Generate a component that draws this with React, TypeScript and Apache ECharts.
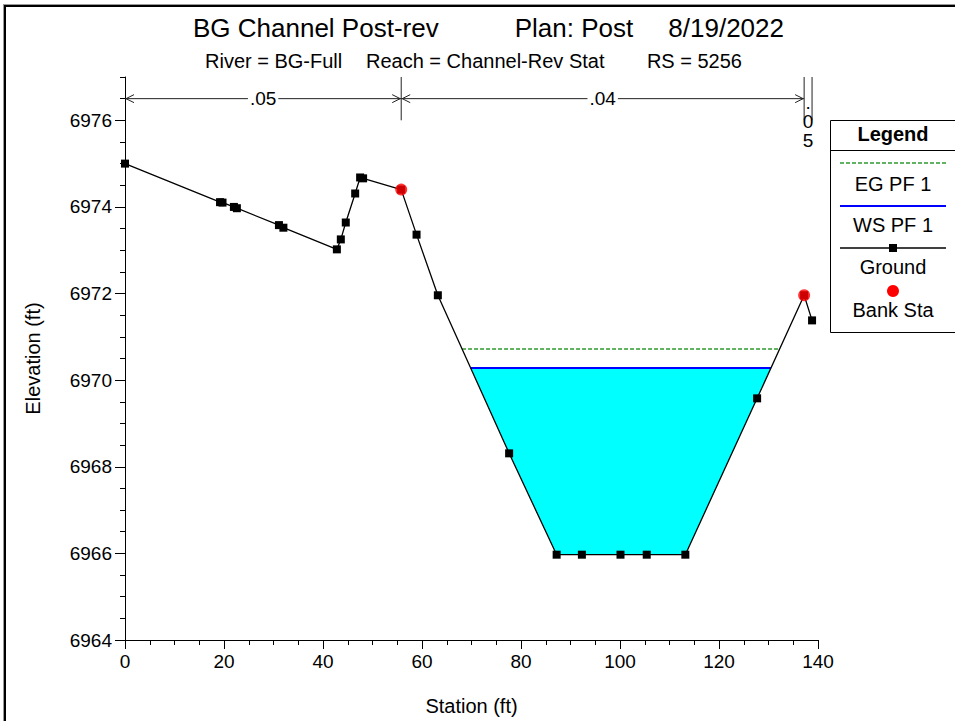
import React, { useEffect, useRef } from "react";
import * as echarts from "echarts";

// ---- Data ----
const stations = [0, 19.2, 19.7, 22.0, 22.6, 31.1, 32.0, 42.8, 43.6, 44.6, 46.5, 47.5, 48.1, 55.8, 58.9, 63.2, 77.6, 87.2, 92.3, 100.1, 105.4, 113.2, 127.7, 137.2, 138.8];
const elevations = [6975.0, 6974.11, 6974.1, 6974.0, 6973.97, 6973.58, 6973.52, 6973.02, 6973.25, 6973.64, 6974.31, 6974.68, 6974.66, 6974.4, 6973.36, 6971.96, 6968.31, 6965.97, 6965.97, 6965.97, 6965.97, 6965.97, 6969.58, 6971.96, 6971.38];
const bankStations = [55.8, 137.2];
const bankElevations = [6974.4, 6971.96];
const wsElevation = 6970.28;
const egElevation = 6970.72;
const nValueLabels = [".05", ".04", ".05"];
const nValueBreaks = [0, 55.8, 137.2, 138.8];
const yLabelValues = [6964, 6966, 6968, 6970, 6972, 6974, 6976];

const X_MIN = 0, X_MAX = 140, X_INT = 20;
const Y_MIN = 6964, Y_MAX = 6977, Y_INT = 2;
const N_LEVEL = 6976.5;

const FONT = "Liberation Sans, Arial, Helvetica, sans-serif";

function crossing(a: number, b: number, level: number): number {
  const t = (level - elevations[a]) / (elevations[b] - elevations[a]);
  return stations[a] + t * (stations[b] - stations[a]);
}

function waterExtent(level: number) {
  let iMin = 0;
  elevations.forEach((e, i) => { if (e < elevations[iMin]) iMin = i; });
  let l = iMin;
  while (l > 0 && elevations[l - 1] < level) l--;
  let r = iMin;
  while (r < elevations.length - 1 && elevations[r + 1] < level) r++;
  return { l, r, xl: crossing(l - 1, l, level), xr: crossing(r, r + 1, level) };
}

const ws = waterExtent(wsElevation);
const eg = waterExtent(egElevation);
const waterPts: number[][] = [[ws.xl, wsElevation]];
for (let i = ws.l; i <= ws.r; i++) waterPts.push([stations[i], elevations[i]]);
waterPts.push([ws.xr, wsElevation]);

const nData = nValueLabels.map((_, i) => [nValueBreaks[i], nValueBreaks[i + 1], i]);

export default function App() {
  const ref = useRef<HTMLDivElement>(null);
  useEffect(() => {
    if (!ref.current) return;
    const chart = echarts.init(ref.current, undefined, { renderer: "svg" });
    const axisText = { color: "#000", fontSize: 19, fontFamily: FONT };
    const legendX = 893;
    const option: any = {
      animation: false,
      backgroundColor: "#fff",
      grid: { left: 125, right: 137, top: 77, bottom: 81 },
      xAxis: {
        type: "value", min: X_MIN, max: X_MAX, interval: X_INT,
        axisLine: { show: true, lineStyle: { color: "#000", width: 1 } },
        axisTick: { show: true, length: 9, lineStyle: { color: "#000" } },
        minorTick: { show: true, splitNumber: 4, length: 5, lineStyle: { color: "#000" } },
        splitLine: { show: false },
        axisLabel: { ...axisText, margin: 12, formatter: (v: number) => String(v) },
        name: "Station (ft)", nameLocation: "middle", nameGap: 56,
        nameTextStyle: { color: "#000", fontSize: 20, fontFamily: FONT },
      },
      yAxis: [
        {
          type: "value", min: Y_MIN, max: Y_MAX, interval: Y_INT, position: "left",
          axisLine: { show: true, lineStyle: { color: "#000", width: 1 } },
          axisTick: { show: true, length: 10, customValues: yLabelValues, lineStyle: { color: "#000" } },
          splitLine: { show: false },
          axisLabel: { ...axisText, margin: 13, customValues: yLabelValues, formatter: (v: number) => String(v) },
          name: "Elevation (ft)", nameLocation: "middle", nameGap: 82, nameRotate: 90,
          nameTextStyle: { color: "#000", fontSize: 20, fontFamily: FONT },
        },
        {
          type: "value", min: Y_MIN, max: Y_MAX, interval: 0.5, position: "left",
          axisLine: { show: false },
          axisTick: { show: true, length: 5, lineStyle: { color: "#000" } },
          axisLabel: { show: false },
          splitLine: { show: false },
        },
      ],
      series: [
        {
          type: "custom", name: "Water", silent: true, z: 1,
          data: waterPts,
          renderItem: (params: any, api: any) => {
            if (params.dataIndex !== 0) return null;
            return {
              type: "polygon",
              shape: { points: waterPts.map((p) => api.coord(p)) },
              style: { fill: "#00ffff", stroke: "none" },
            };
          },
        },
        {
          type: "line", name: "EG PF 1", z: 3, symbol: "none",
          data: [[eg.xl, egElevation], [eg.xr, egElevation]],
          lineStyle: { color: "#2e9a2e", width: 1.5, type: [4, 2] },
        },
        {
          type: "line", name: "WS PF 1", z: 3, symbol: "none",
          data: [[ws.xl, wsElevation], [ws.xr, wsElevation]],
          lineStyle: { color: "#0000ff", width: 2 },
        },
        {
          type: "line", name: "Ground", z: 4, symbol: "rect", symbolSize: 8,
          data: stations.map((s, i) => [s, elevations[i]]),
          lineStyle: { color: "#000", width: 1.3 },
          itemStyle: { color: "#000" },
        },
        {
          type: "scatter", name: "Bank Sta", z: 5, symbol: "circle", symbolSize: 12,
          data: bankStations.map((s, i) => [s, bankElevations[i]]),
          itemStyle: { color: "#ff0000" },
        },
        {
          type: "custom", name: "n values", z: 6, silent: true, clip: false,
          data: nData,
          renderItem: (params: any, api: any) => {
            const x1 = api.value(0), x2 = api.value(1), idx = api.value(2);
            const a = api.coord([x1, N_LEVEL]);
            const b = api.coord([x2, N_LEVEL]);
            const top = api.coord([x2, Y_MAX])[1];
            const bottom = api.coord([x2, Y_MAX - 1])[1];
            const stroke = { stroke: "#222", lineWidth: 1 };
            const children: any[] = [
              { type: "line", shape: { x1: b[0], y1: top, x2: b[0], y2: bottom }, style: stroke },
            ];
            const label = nValueLabels[idx];
            if (b[0] - a[0] > 30) {
              const y = a[1];
              children.push({ type: "line", shape: { x1: a[0], y1: y, x2: b[0], y2: y }, style: stroke });
              children.push({ type: "polyline", shape: { points: [[a[0] + 9, y - 4], [a[0] + 1, y], [a[0] + 9, y + 4]] }, style: { ...stroke, fill: "none" } });
              children.push({ type: "polyline", shape: { points: [[b[0] - 9, y - 4], [b[0] - 1, y], [b[0] - 9, y + 4]] }, style: { ...stroke, fill: "none" } });
              children.push({
                type: "text", x: (a[0] + b[0]) / 2, y,
                style: { text: label, fill: "#000", fontSize: 19, fontFamily: FONT, align: "center", verticalAlign: "middle", backgroundColor: "#fff", padding: [0, 2] },
              });
            } else {
              children.push({
                type: "text", x: (a[0] + b[0]) / 2, y: a[1] - 6,
                style: { text: label.split("").join("\n"), fill: "#000", fontSize: 19, lineHeight: 19, fontFamily: FONT, align: "center", verticalAlign: "top" },
              });
            }
            return { type: "group", children };
          },
        },
      ],
      graphic: [
        { type: "line", shape: { x1: 3, y1: 4.5, x2: 955, y2: 4.5 }, style: { stroke: "#999", lineWidth: 1 } },
        { type: "line", shape: { x1: 4, y1: 6, x2: 955, y2: 6 }, style: { stroke: "#000", lineWidth: 2 } },
        { type: "line", shape: { x1: 3.5, y1: 4, x2: 3.5, y2: 721 }, style: { stroke: "#999", lineWidth: 1 } },
        { type: "line", shape: { x1: 5, y1: 5, x2: 5, y2: 721 }, style: { stroke: "#000", lineWidth: 2 } },
        { type: "text", x: 193, y: 28, style: { text: "BG Channel Post-rev", fill: "#000", fontSize: 26, fontFamily: FONT, align: "left", verticalAlign: "middle" } },
        { type: "text", x: 574, y: 28, style: { text: "Plan: Post", fill: "#000", fontSize: 26, fontFamily: FONT, align: "center", verticalAlign: "middle" } },
        { type: "text", x: 784, y: 28, style: { text: "8/19/2022", fill: "#000", fontSize: 26, fontFamily: FONT, align: "right", verticalAlign: "middle" } },
        { type: "text", x: 205, y: 61, style: { text: "River = BG-Full", fill: "#000", fontSize: 20, fontFamily: FONT, align: "left", verticalAlign: "middle" } },
        { type: "text", x: 366, y: 61, style: { text: "Reach = Channel-Rev Stat", fill: "#000", fontSize: 20, fontFamily: FONT, align: "left", verticalAlign: "middle" } },
        { type: "text", x: 742, y: 61, style: { text: "RS = 5256", fill: "#000", fontSize: 20, fontFamily: FONT, align: "right", verticalAlign: "middle" } },
        // legend box
        { type: "rect", shape: { x: 830.5, y: 120.5, width: 130, height: 212 }, style: { fill: "#fff", stroke: "#000", lineWidth: 1 }, z: 10 },
        { type: "line", shape: { x1: 830, y1: 150.5, x2: 960, y2: 150.5 }, style: { stroke: "#000", lineWidth: 1 }, z: 11 },
        { type: "text", x: legendX, y: 134, z: 11, style: { text: "Legend", fill: "#000", fontSize: 20, fontWeight: "bold", fontFamily: FONT, align: "center", verticalAlign: "middle" } },
        { type: "line", shape: { x1: 840, y1: 163, x2: 946, y2: 163 }, z: 11, style: { stroke: "#2e9a2e", lineWidth: 1.5, lineDash: [4, 2] } },
        { type: "text", x: legendX, y: 184, z: 11, style: { text: "EG PF 1", fill: "#000", fontSize: 20, fontFamily: FONT, align: "center", verticalAlign: "middle" } },
        { type: "line", shape: { x1: 840, y1: 206, x2: 946, y2: 206 }, z: 11, style: { stroke: "#0000ff", lineWidth: 2 } },
        { type: "text", x: legendX, y: 225, z: 11, style: { text: "WS PF 1", fill: "#000", fontSize: 20, fontFamily: FONT, align: "center", verticalAlign: "middle" } },
        { type: "line", shape: { x1: 840, y1: 248, x2: 946, y2: 248 }, z: 11, style: { stroke: "#000", lineWidth: 1.3 } },
        { type: "rect", shape: { x: legendX - 4, y: 244, width: 8, height: 8 }, z: 11, style: { fill: "#000" } },
        { type: "text", x: legendX, y: 267, z: 11, style: { text: "Ground", fill: "#000", fontSize: 20, fontFamily: FONT, align: "center", verticalAlign: "middle" } },
        { type: "circle", shape: { cx: legendX, cy: 291, r: 6 }, z: 11, style: { fill: "#ff0000" } },
        { type: "text", x: legendX, y: 310, z: 11, style: { text: "Bank Sta", fill: "#000", fontSize: 20, fontFamily: FONT, align: "center", verticalAlign: "middle" } },
      ],
    };
    chart.setOption(option);
    return () => chart.dispose();
  }, []);
  return (
    <div
      ref={ref}
      style={{ position: "fixed", left: 0, top: 0, width: 955, height: 721, background: "#fff" }}
    />
  );
}
